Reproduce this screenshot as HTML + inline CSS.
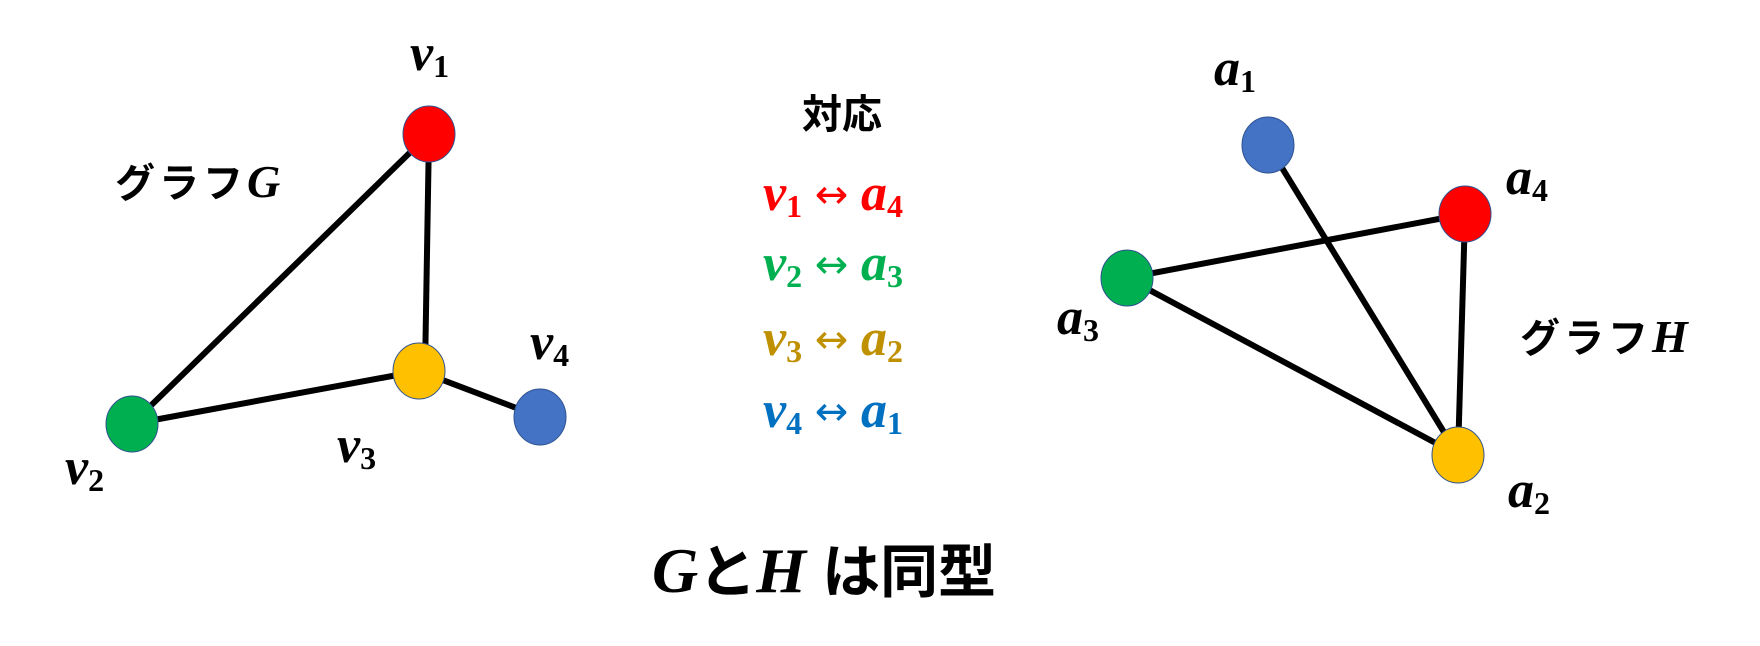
<!DOCTYPE html>
<html><head><meta charset="utf-8"><style>
html,body{margin:0;padding:0;background:#fff;}
svg{display:block;}
.m{font-family:"Liberation Serif",serif;font-style:italic;font-weight:bold;}
.s{font-family:"Liberation Serif",serif;font-weight:bold;font-style:normal;}
.j{font-family:"Liberation Sans","Noto Sans CJK JP",sans-serif;font-weight:bold;}
</style></head><body>
<svg width="1760" height="646" viewBox="0 0 1760 646" xmlns="http://www.w3.org/2000/svg">
<g stroke="#000" stroke-width="6" fill="none">
<line x1="429" y1="134" x2="132" y2="424"/>
<line x1="429" y1="134" x2="425" y2="371"/>
<line x1="132" y1="424" x2="419" y2="371"/>
<line x1="419" y1="371" x2="540" y2="417"/>
<line x1="1268" y1="145" x2="1458" y2="455"/>
<line x1="1127" y1="278" x2="1465" y2="214"/>
<line x1="1127" y1="278" x2="1458" y2="455"/>
<line x1="1465" y1="214" x2="1458" y2="455"/>
</g>
<g stroke="#2f528f" stroke-width="1">
<ellipse cx="429" cy="134" rx="26" ry="28" fill="#ff0000"/>
<ellipse cx="132" cy="424" rx="26" ry="28" fill="#00b050"/>
<ellipse cx="419" cy="371" rx="26" ry="28" fill="#ffc000"/>
<ellipse cx="540" cy="417" rx="26" ry="28" fill="#4472c4"/>
<ellipse cx="1268" cy="145" rx="26" ry="28" fill="#4472c4"/>
<ellipse cx="1465" cy="214" rx="26" ry="28" fill="#ff0000"/>
<ellipse cx="1127" cy="278" rx="26" ry="28" fill="#00b050"/>
<ellipse cx="1458" cy="455" rx="26" ry="28" fill="#ffc000"/>
</g>
<g class="m" font-size="52" fill="#000">
<text x="410" y="70">v<tspan class="s" font-size="32" dy="7">1</tspan></text>
<text x="65" y="484">v<tspan class="s" font-size="32" dy="7">2</tspan></text>
<text x="337" y="462">v<tspan class="s" font-size="32" dy="7">3</tspan></text>
<text x="530" y="359">v<tspan class="s" font-size="32" dy="7">4</tspan></text>
<text x="1214" y="85">a<tspan class="s" font-size="32" dy="7">1</tspan></text>
<text x="1506" y="194">a<tspan class="s" font-size="32" dy="7">4</tspan></text>
<text x="1057" y="334">a<tspan class="s" font-size="32" dy="7">3</tspan></text>
<text x="1508" y="507">a<tspan class="s" font-size="32" dy="7">2</tspan></text>
</g>
<text class="j" x="115" y="197" font-size="40" letter-spacing="4">グラフ<tspan class="m" font-size="46">G</tspan></text>
<text class="j" x="1520" y="352" font-size="40" letter-spacing="4">グラフ<tspan class="m" font-size="46">H</tspan></text>
<text class="j" x="802" y="128" font-size="40">対応</text>
<g font-size="52">
<text x="763" y="210" fill="#ff0000"><tspan class="m">v</tspan><tspan class="s" font-size="32" dy="7">1</tspan><tspan font-family="DejaVu Sans" font-size="40" dy="-9"> ↔ </tspan><tspan class="m" dy="2">a</tspan><tspan class="s" font-size="32" dy="7">4</tspan></text>
<text x="763" y="280" fill="#00b050"><tspan class="m">v</tspan><tspan class="s" font-size="32" dy="7">2</tspan><tspan font-family="DejaVu Sans" font-size="40" dy="-9"> ↔ </tspan><tspan class="m" dy="2">a</tspan><tspan class="s" font-size="32" dy="7">3</tspan></text>
<text x="763" y="355" fill="#bf9000"><tspan class="m">v</tspan><tspan class="s" font-size="32" dy="7">3</tspan><tspan font-family="DejaVu Sans" font-size="40" dy="-9"> ↔ </tspan><tspan class="m" dy="2">a</tspan><tspan class="s" font-size="32" dy="7">2</tspan></text>
<text x="763" y="427" fill="#0070c0"><tspan class="m">v</tspan><tspan class="s" font-size="32" dy="7">4</tspan><tspan font-family="DejaVu Sans" font-size="40" dy="-9"> ↔ </tspan><tspan class="m" dy="2">a</tspan><tspan class="s" font-size="32" dy="7">1</tspan></text>
</g>
<text class="j" x="652" y="592" font-size="58"><tspan class="m" font-size="64">G</tspan>と<tspan class="m" font-size="64">H</tspan> は同型</text>
</svg>
</body></html>
